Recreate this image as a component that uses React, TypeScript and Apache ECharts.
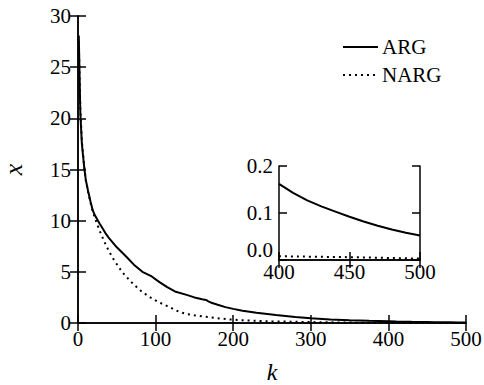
import React, { useEffect, useRef } from "react";
import * as echarts from "echarts";

const kArg = [1, 3, 5, 8, 10, 13, 16, 19, 22, 25, 28, 32, 36, 40, 50, 62, 72, 83, 95, 105, 115, 126, 140, 150, 160, 165, 168, 172, 180, 190, 200, 212, 230, 255, 280, 300, 325, 350, 375, 400, 410, 420, 430, 440, 450, 460, 470, 480, 490, 500];
const xArg = [28.1, 20.5, 17.5, 15.2, 14.0, 12.9, 11.9, 11.0, 10.5, 10.1, 9.7, 9.2, 8.7, 8.3, 7.4, 6.5, 5.7, 5.0, 4.55, 4.0, 3.5, 3.05, 2.75, 2.5, 2.32, 2.25, 2.12, 1.98, 1.78, 1.55, 1.38, 1.2, 1.0, 0.78, 0.58, 0.46, 0.35, 0.27, 0.21, 0.162, 0.143, 0.127, 0.114, 0.103, 0.092, 0.082, 0.073, 0.065, 0.058, 0.052];

const kNarg = [1, 3, 5, 8, 10, 13, 16, 19, 22, 25, 28, 32, 36, 40, 46, 53, 60, 70, 80, 92, 105, 118, 130, 139, 150, 169, 195, 220, 250, 300, 350, 400, 450, 500];
const xNarg = [27.5, 21, 17.8, 15.3, 14.0, 12.8, 11.8, 10.9, 10.2, 9.6, 9.0, 8.3, 7.6, 7.0, 6.2, 5.4, 4.7, 3.9, 3.2, 2.55, 2.0, 1.55, 1.1, 0.9, 0.75, 0.56, 0.35, 0.24, 0.16, 0.09, 0.04, 0.008, 0.006, 0.003];

const mainXTicks = [0, 500, 100];
const mainYTicks = [0, 30, 5];
const insetXTicks = [400, 500, 50];
const insetYTicks = [0, 0.2, 0.1];
const legendNames = ["ARG", "NARG"];

const FONT = "Liberation Serif";

function pairs(ks: number[], vs: number[], minK = -Infinity) {
  const out: number[][] = [];
  ks.forEach((k, i) => {
    if (k >= minK) out.push([k, vs[i]]);
  });
  return out;
}

export default function App() {
  const ref = useRef<HTMLDivElement>(null);
  useEffect(() => {
    if (!ref.current) return;
    const chart = echarts.init(ref.current, null, { renderer: "svg" });
    const axisLine = { show: true, lineStyle: { color: "#000", width: 1.5 } };
    const tickIn = { show: true, inside: true, length: 8, lineStyle: { color: "#000", width: 1.5 } };
    const lab = { color: "#000", fontFamily: FONT, fontSize: 21 };
    const mkX = (grid: number, t: number[], pos: string, show: boolean, margin = 5, extra: any = {}) => ({
      type: "value",
      gridIndex: grid,
      position: pos,
      min: t[0],
      max: t[1],
      interval: t[2],
      axisLine,
      axisTick: tickIn,
      axisLabel: show ? { ...lab, margin } : { show: false },
      splitLine: { show: false },
      ...extra,
    });
    const mkY = (grid: number, t: number[], pos: string, show: boolean, labExtra: any = {}, extra: any = {}) => ({
      type: "value",
      gridIndex: grid,
      position: pos,
      min: t[0],
      max: t[1],
      interval: t[2],
      axisLine,
      axisTick: tickIn,
      axisLabel: show ? { ...lab, margin: 7, ...labExtra } : { show: false },
      splitLine: { show: false },
      ...extra,
    });
    const dotted = [2, 4];
    const lineCommon = { type: "line", showSymbol: false, symbol: "none", clip: true };
    chart.setOption({
      animation: false,
      backgroundColor: "#fff",
      textStyle: { fontFamily: FONT, color: "#000" },
      grid: [
        { left: 78, top: 16, right: 18, bottom: 62, outerBoundsMode: "none", containLabel: false },
        { left: 279, top: 166, width: 141, height: 94, backgroundColor: "#fff", show: true, borderWidth: 0, outerBoundsMode: "none", containLabel: false },
      ],
      xAxis: [
        mkX(0, mainXTicks, "bottom", true, 5, {
          name: "k",
          nameLocation: "middle",
          nameGap: 37,
          nameTextStyle: { fontFamily: FONT, fontStyle: "italic", fontSize: 24, color: "#000" },
        }),
        mkX(0, mainXTicks, "top", false),
        mkX(1, insetXTicks, "bottom", true, 1),
        mkX(1, insetXTicks, "top", false),
      ],
      yAxis: [
        mkY(0, mainYTicks, "left", true, {}, {
          name: "x",
          nameLocation: "middle",
          nameGap: 52,
          nameRotate: 90,
          nameTextStyle: { fontFamily: FONT, fontStyle: "italic", fontSize: 26, color: "#000" },
        }),
        mkY(0, mainYTicks, "right", false),
        mkY(1, insetYTicks, "left", true, {
          margin: 6,
          formatter: (v: number) => v.toFixed(1),
          verticalAlignMinLabel: "bottom",
        }),
        mkY(1, insetYTicks, "right", false),
      ],
      graphic: [
        { type: "line", shape: { x1: 343, y1: 47, x2: 378, y2: 47 }, style: { stroke: "#000", lineWidth: 2 } },
        { type: "text", x: 382, y: 47, style: { text: legendNames[0], font: `21px ${FONT}`, fill: "#000", verticalAlign: "middle" } },
        { type: "line", shape: { x1: 343, y1: 75, x2: 378, y2: 75 }, style: { stroke: "#000", lineWidth: 2, lineDash: dotted } },
        { type: "text", x: 382, y: 75, style: { text: legendNames[1], font: `21px ${FONT}`, fill: "#000", verticalAlign: "middle" } },
      ],
      series: [
        {
          ...lineCommon,
          name: "ARG",
          xAxisIndex: 0,
          yAxisIndex: 0,
          data: pairs(kArg, xArg),
          lineStyle: { color: "#000", width: 2 },
        },
        {
          ...lineCommon,
          name: "NARG",
          xAxisIndex: 0,
          yAxisIndex: 0,
          data: pairs(kNarg, xNarg),
          lineStyle: { color: "#000", width: 2, type: dotted },
        },
        {
          ...lineCommon,
          name: "ARG",
          xAxisIndex: 2,
          yAxisIndex: 2,
          data: pairs(kArg, xArg, 390),
          lineStyle: { color: "#000", width: 2 },
        },
        {
          ...lineCommon,
          name: "NARG",
          xAxisIndex: 2,
          yAxisIndex: 2,
          data: pairs(kNarg, xNarg, 350),
          lineStyle: { color: "#000", width: 2, type: dotted },
        },
      ],
    });
    return () => chart.dispose();
  }, []);
  return <div ref={ref} style={{ width: 484, height: 385, position: "absolute", left: 0, top: 0 }} />;
}
